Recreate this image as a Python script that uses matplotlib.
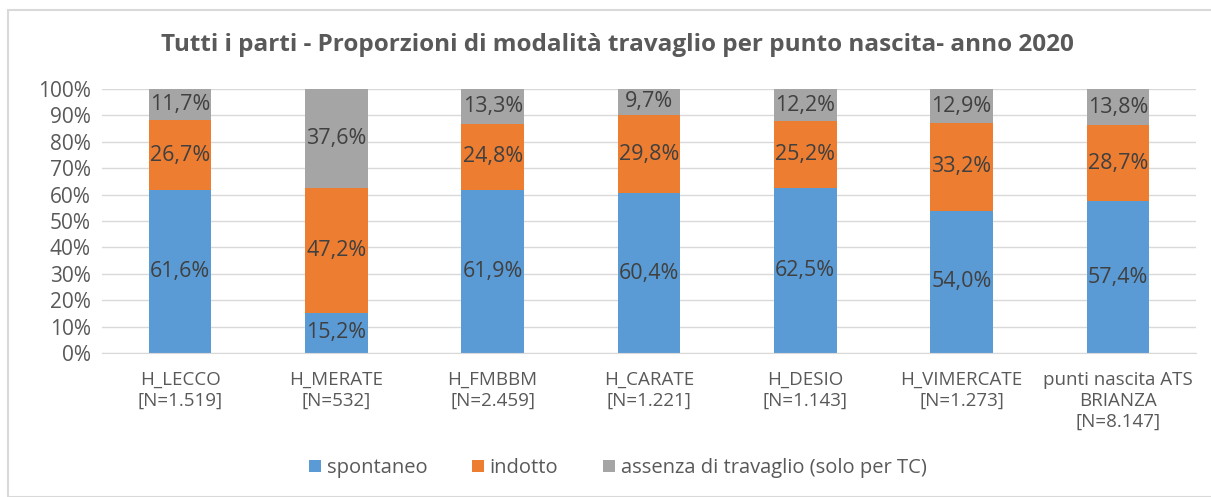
import matplotlib.pyplot as plt
import numpy as np
from matplotlib.patches import Rectangle

plt.rcParams['font.family'] = ['Open Sans', 'DejaVu Sans']

# dati
categorie = ['H_LECCO\n[N=1.519]', 'H_MERATE\n[N=532]', 'H_FMBBM\n[N=2.459]',
             'H_CARATE\n[N=1.221]', 'H_DESIO\n[N=1.143]', 'H_VIMERCATE\n[N=1.273]',
             'punti nascita ATS\nBRIANZA\n[N=8.147]']
spontaneo = [61.6, 15.2, 61.9, 60.4, 62.5, 54.0, 57.4]
indotto = [26.7, 47.2, 24.8, 29.8, 25.2, 33.2, 28.7]
assenza = [11.7, 37.6, 13.3, 9.7, 12.2, 12.9, 13.8]
serie = ['spontaneo', 'indotto', 'assenza di travaglio (solo per TC)']
colori = ['#5B9BD5', '#ED7D31', '#A5A5A5']

fig = plt.figure(figsize=(12.11, 4.97), dpi=100)
ax = fig.add_axes([0.0842, 0.2897, 0.9034, 0.5312])

# cornice del grafico
fig.patches.append(Rectangle((8 / 1211, 0), 1.0, 1 - 10 / 497, transform=fig.transFigure,
                             fill=False, edgecolor='#D9D9D9', linewidth=1.5))

valori = np.array([spontaneo, indotto, assenza])
totali = valori.sum(axis=0)
x = np.arange(len(categorie))
base = np.zeros(len(categorie))
for i in range(3):
    h = valori[i] / totali * 100
    ax.bar(x, h, 0.4, bottom=base, color=colori[i], label=serie[i], zorder=2)
    for j in range(len(x)):
        ax.text(x[j], base[j] + h[j] / 2, f'{valori[i][j]:.1f}%'.replace('.', ','),
                ha='center', va='center', fontsize=15.5, color='#404040', zorder=3)
    base += h

ax.set_xlim(-0.5, len(categorie) - 0.5)
ax.set_ylim(0, 100)
ax.set_yticks(np.arange(0, 101, 10))
ax.set_yticklabels([f'{v}%' for v in range(0, 101, 10)])
ax.set_xticks(x)
ax.set_xticklabels(categorie, fontsize=13.5, color='#595959', va='top', linespacing=1.2)
ax.tick_params(axis='y', labelsize=15, colors='#595959', length=0, pad=8)
ax.tick_params(axis='x', length=0, pad=13)
ax.grid(axis='y', color='#D9D9D9', linewidth=1, zorder=0)
for s in ['top', 'right', 'left']:
    ax.spines[s].set_visible(False)
ax.spines['bottom'].set_color('#D9D9D9')

fig.text(0.51, 0.91, 'Tutti i parti - Proporzioni di modalità travaglio per punto nascita- anno 2020',
         ha='center', va='center', fontsize=17.5, fontweight='bold', color='#595959')

ax.legend(loc='center', bbox_to_anchor=(0.51, 0.058), bbox_transform=fig.transFigure,
          ncol=3, frameon=False, fontsize=14.5, labelcolor='#595959',
          handlelength=0.6, handleheight=0.6, handletextpad=0.3, columnspacing=2.2)

fig.savefig('out.png', dpi=100)
